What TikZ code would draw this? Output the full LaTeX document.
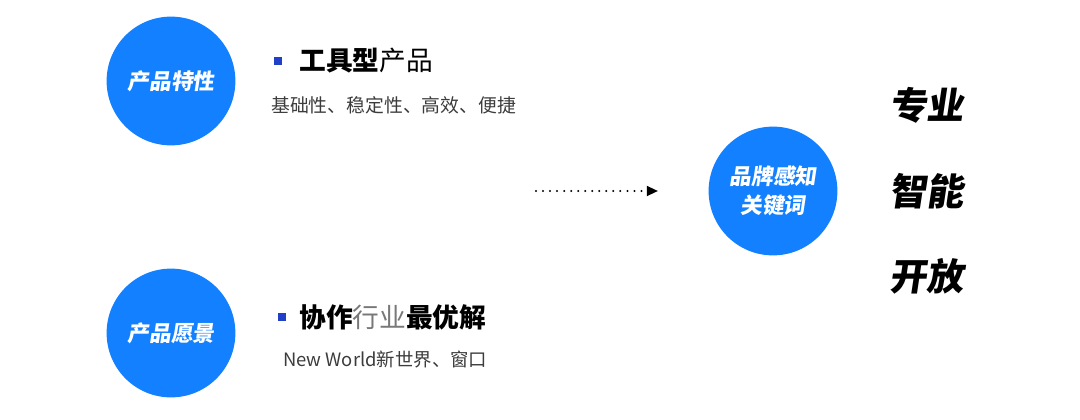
\documentclass[tikz,border=0pt]{standalone}
\usepackage{fontspec}
\usepackage{xcolor}
\usetikzlibrary{calc,arrows.meta,positioning}
\newfontfamily\cjk{Noto Sans CJK SC}
\newfontfamily\cjkslant[FakeSlant=0.15]{Noto Sans CJK SC}
\definecolor{brandBlue}{RGB}{19,128,255}
\definecolor{bulletBlue}{RGB}{32,64,200}
\definecolor{textGray}{RGB}{60,60,60}
\definecolor{softGray}{RGB}{120,120,120}
\newcommand{\KeyWord}[1]{{\cjkslant\bfseries\fontsize{26.5}{30}\selectfont #1}}

\begin{document}
\begin{tikzpicture}[
  brandCircle/.style={circle,fill=brandBlue,minimum size=3.22cm,inner sep=0pt,text=white,align=center,
    font=\cjkslant\bfseries\fontsize{15.5}{21}\selectfont},
  squareBullet/.style={fill=bulletBlue,minimum size=0.2cm,inner sep=0pt},
  headLine/.style={anchor=west,inner sep=0pt,font=\cjk\fontsize{19}{22}\selectfont},
  subLine/.style={anchor=west,inner sep=0pt,text=textGray,font=\cjk\fontsize{13.4}{16}\selectfont}
]
\useasboundingbox (0,0) rectangle (27,10.475);
% left column
\node[brandCircle] (circleFeature) at (4.275,8.45) {产品特性};
\node[brandCircle] (circleVision) at (4.275,2.15) {产品愿景};
\node[squareBullet] (bulletFeature) at (6.95,8.95) {};
\node[headLine,right=0.42cm of bulletFeature] (headFeature) {\textbf{工具型}产品};
\node[subLine] (subFeature) at (6.775,7.85) {基础性、稳定性、高效、便捷};
\node[squareBullet] (bulletVision) at (7.05,2.55) {};
\node[headLine,right=0.32cm of bulletVision] (headVision) {\textbf{协作}\textcolor{softGray}{行业}\textbf{最优解}};
\node[subLine,font=\cjk\fontsize{13.1}{16}\selectfont] (subVision) at (7.075,1.475) {New World新世界、窗口};
% brand keywords
\coordinate (dotStart) at (13.4,5.7);
\coordinate (dotEnd) at (16.45,5.7);
\draw[line width=1.6pt,line cap=round,dash pattern=on 0pt off 5pt,-{Triangle[length=8pt,width=7pt]}] (dotStart) -- (dotEnd);
\node[brandCircle] (circleBrand) at (19.325,5.7) {品牌感知\\关键词};
\node (wordPro) at (23.16,7.85) {\KeyWord{专业}};
\node (wordSmart) at (23.16,5.7) {\KeyWord{智能}};
\node (wordOpen) at (23.16,3.575) {\KeyWord{开放}};
\end{tikzpicture}
\end{document}
